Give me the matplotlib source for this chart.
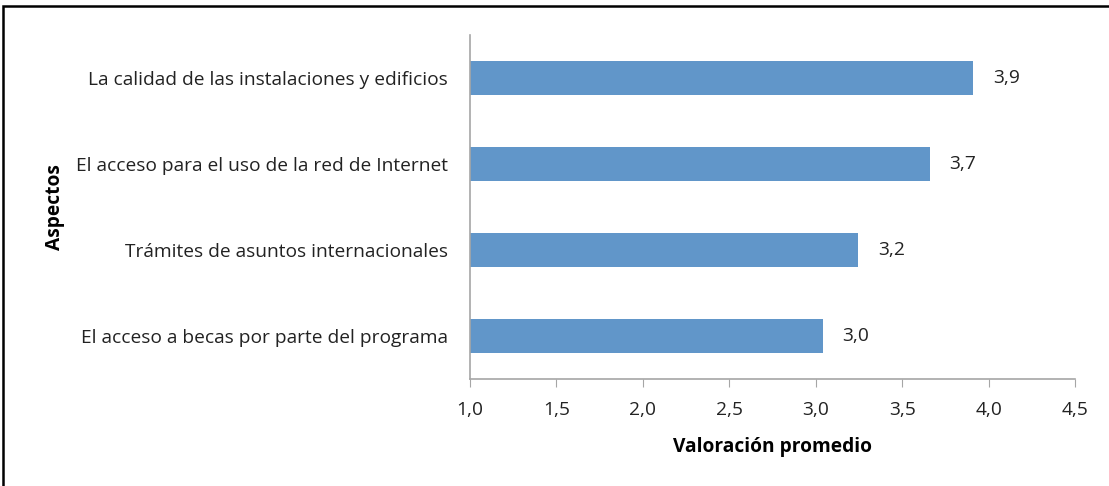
import matplotlib.pyplot as plt
from matplotlib.patches import Rectangle

aspectos = ['El acceso a becas por parte del programa',
            'Trámites de asuntos internacionales',
            'El acceso para el uso de la red de Internet',
            'La calidad de las instalaciones y edificios']
valores = [3.04, 3.245, 3.66, 3.91]
etiquetas = ['3,0', '3,2', '3,7', '3,9']
xticks = [1.0, 1.5, 2.0, 2.5, 3.0, 3.5, 4.0, 4.5]

plt.rcParams['font.family'] = ['Open Sans', 'DejaVu Sans']

fig = plt.figure(figsize=(11.09, 4.86), dpi=100)
ax = fig.add_axes([470 / 1109, 1 - 379 / 486, 605 / 1109, 344 / 486])

gris = '#a6a6a6'
fs = 13.8
ypos = range(len(aspectos))
ax.barh(ypos, [v - 1.0 for v in valores], left=1.0, height=0.4, color='#6196c9')
for y, v, t in zip(ypos, valores, etiquetas):
    ax.text(v + 0.115, y, t, va='center', ha='left', fontsize=fs, color='#222222')

ax.set_xlim(1.0, 4.5)
ax.set_ylim(-0.5, 3.5)
ax.set_xticks(xticks)
ax.set_xticklabels([f'{x:.1f}'.replace('.', ',') for x in xticks], fontsize=fs, color='#222222')
ax.set_yticks(list(ypos))
ax.set_yticklabels(aspectos, fontsize=fs, color='#222222')
ax.tick_params(axis='y', length=0, pad=16)
ax.tick_params(axis='x', length=6, color=gris, pad=10)

for s in ['top', 'right']:
    ax.spines[s].set_visible(False)
for s in ['left', 'bottom']:
    ax.spines[s].set_color(gris)
    ax.spines[s].set_linewidth(1.2)

ax.set_xlabel('Valoración promedio', fontsize=fs, fontweight='bold', labelpad=13)
fig.text(55 / 1109, 1 - 207 / 486, 'Aspectos', rotation=90, ha='center', va='center',
         fontsize=fs, fontweight='bold')

# marco exterior (solo se ven los bordes superior e izquierdo)
fig.patches.append(Rectangle((3 / 1109, -0.1), 1.2, 1 - 6 / 486 + 0.1,
                             transform=fig.transFigure, fill=False,
                             edgecolor='black', linewidth=1.8))

fig.savefig('out.png', dpi=100)
